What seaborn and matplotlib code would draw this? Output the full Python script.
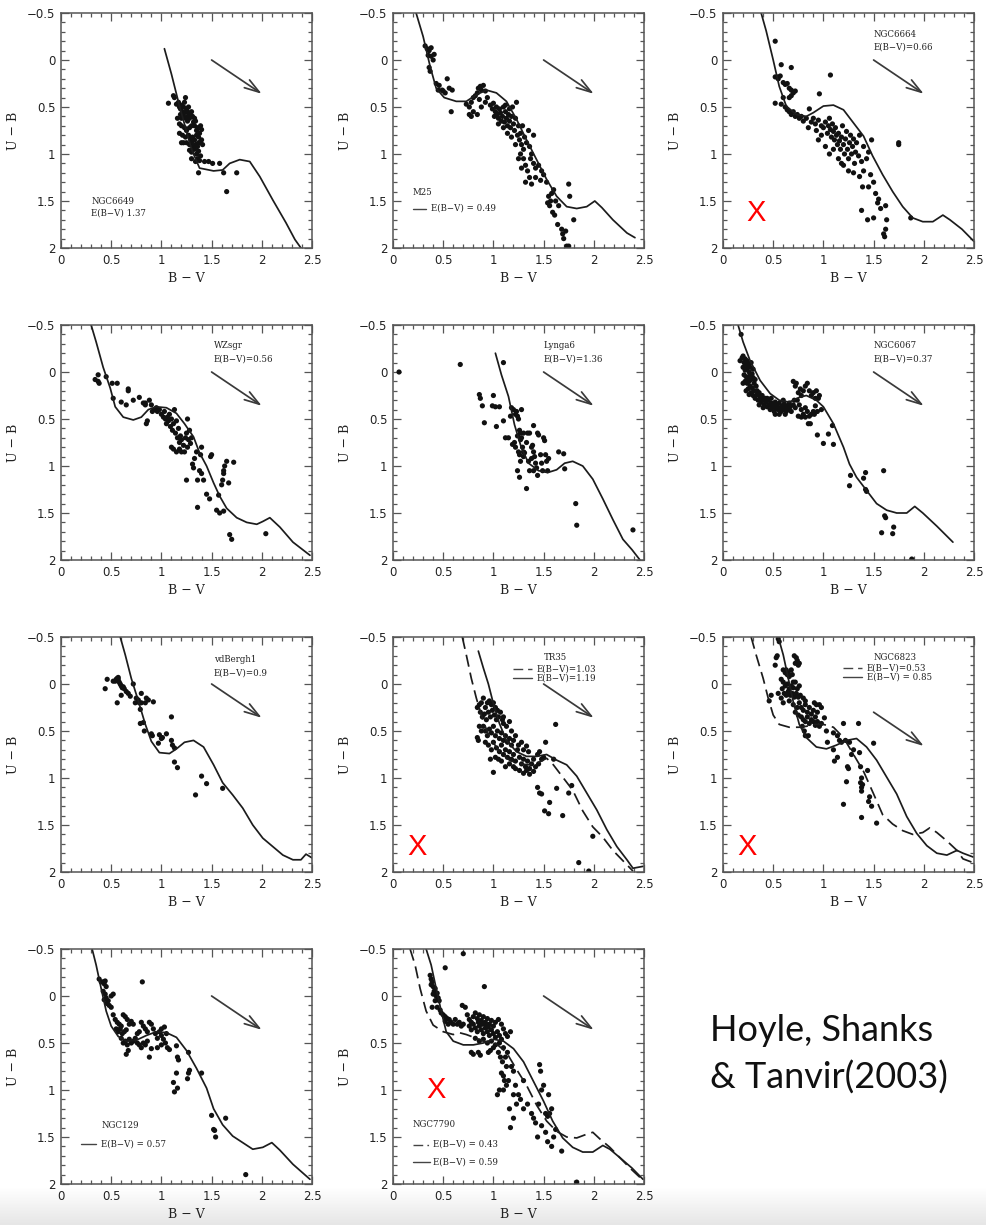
import numpy as np
import pandas as pd
import matplotlib
matplotlib.use("Agg")
import matplotlib.pyplot as plt
import seaborn as sns

# ---------------- DATA ----------------
x_ticks = [0, 0.5, 1, 1.5, 2, 2.5]
x_tick_labels = ["0", "0.5", "1", "1.5", "2", "2.5"]
y_ticks = [-0.5, 0, 0.5, 1, 1.5, 2]
y_tick_labels = ["\u22120.5", "0", "0.5", "1", "1.5", "2"]
x_label = "B \u2212 V"
y_label = "U \u2212 B"
citation_lines = ["Hoyle, Shanks", "& Tanvir(2003)"]

# reddening vector (start, end) in (B-V, U-B)
arrow_default = [(1.5, 0.0), (2.0, 0.36)]
arrow_ngc6823 = [(1.5, 0.30), (2.0, 0.66)]

# ---- NGC6649 ----
ngc6649_pts = [(1.07,0.46),(1.12,0.38),(1.13,0.40),(1.15,0.47),(1.17,0.45),(1.18,0.50),(1.19,0.52),(1.20,0.48),
 (1.21,0.55),(1.22,0.50),(1.23,0.45),(1.24,0.40),(1.25,0.52),(1.26,0.55),(1.27,0.50),(1.28,0.58),(1.30,0.55),
 (1.19,0.58),(1.20,0.62),(1.22,0.60),(1.24,0.62),(1.26,0.65),(1.28,0.62),(1.31,0.60),(1.33,0.62),(1.34,0.65),
 (1.16,0.62),(1.18,0.68),(1.20,0.70),(1.23,0.72),(1.25,0.75),(1.28,0.72),(1.30,0.70),(1.33,0.70),(1.36,0.72),
 (1.39,0.70),(1.40,0.74),(1.18,0.78),(1.21,0.80),(1.24,0.82),(1.27,0.80),(1.29,0.84),(1.31,0.82),(1.33,0.85),
 (1.35,0.80),(1.37,0.82),(1.38,0.78),(1.40,0.85),(1.20,0.88),(1.22,0.88),(1.25,0.88),(1.28,0.90),(1.30,0.88),
 (1.32,0.92),(1.34,0.90),(1.36,0.92),(1.38,0.88),(1.41,0.90),(1.28,0.96),(1.30,0.98),(1.33,0.95),(1.35,1.00),
 (1.37,0.97),(1.39,1.02),(1.30,1.05),(1.34,1.08),(1.36,1.05),(1.38,1.07),(1.43,1.08),(1.47,1.08),(1.51,1.10),
 (1.58,1.10),(1.37,1.20),(1.62,1.20),(1.75,1.20),(1.65,1.40),(1.21,0.57),(1.23,0.56),(1.26,0.60),(1.32,0.66),
 (1.35,0.75),(1.37,0.88)]
ngc6649_curve = [(1.03,-0.12),(1.10,0.15),(1.18,0.49),(1.30,0.95),(1.38,1.15),(1.52,1.18),(1.61,1.17),(1.68,1.10),
 (1.78,1.06),(1.88,1.08),(1.98,1.24),(2.11,1.49),(2.24,1.73),(2.33,1.91),(2.39,2.0)]

# ---- M25 ----
m25_pts = [(0.32,-0.15),(0.34,-0.12),(0.36,-0.10),(0.38,-0.13),(0.35,-0.05),(0.38,-0.04),(0.41,-0.06),(0.40,0.0),
 (0.36,0.08),(0.37,0.12),(0.43,0.25),(0.46,0.27),(0.45,0.32),(0.49,0.32),(0.52,0.35),(0.54,0.20),(0.56,0.30),
 (0.59,0.32),(0.58,0.55),(0.50,0.33),(0.73,0.47),(0.76,0.50),(0.78,0.45),(0.80,0.40),(0.82,0.38),(0.84,0.35),
 (0.85,0.30),(0.87,0.28),(0.88,0.32),(0.90,0.27),(0.92,0.33),(0.86,0.42),(0.80,0.55),(0.78,0.60),(0.84,0.58),
 (0.88,0.50),(0.92,0.45),(0.94,0.40),(0.76,0.58),(0.97,0.48),(0.99,0.52),(1.00,0.46),(1.02,0.55),(1.03,0.50),
 (1.04,0.58),(1.05,0.62),(1.06,0.52),(1.07,0.56),(1.08,0.65),(1.09,0.60),(1.10,0.50),(1.11,0.66),(1.12,0.55),
 (1.13,0.62),(1.14,0.70),(1.15,0.58),(1.16,0.65),(1.17,0.72),(1.18,0.60),(1.19,0.50),(1.20,0.68),(1.21,0.75),
 (1.22,0.62),(1.23,0.45),(1.24,0.80),(1.25,0.70),(1.26,0.85),(1.27,0.78),(1.28,0.90),(1.30,0.95),(1.29,0.70),
 (1.31,0.82),(1.33,0.88),(1.35,0.75),(1.36,0.92),(1.38,1.00),(1.40,0.80),(1.37,1.05),(1.30,1.05),(1.27,1.00),
 (1.25,1.05),(1.32,1.12),(1.28,1.15),(1.34,1.18),(1.40,1.10),(1.42,1.15),(1.45,1.12),(1.48,1.18),(1.36,1.25),
 (1.32,1.30),(1.42,1.25),(1.47,1.28),(1.38,1.32),(1.53,1.30),(1.50,1.22),(1.10,0.72),(1.14,0.78),(1.18,0.82),
 (1.22,0.90),(1.05,0.68),(1.01,0.60),(1.12,0.48),(1.16,0.52),(1.55,1.45),(1.57,1.50),(1.58,1.42),(1.60,1.38),
 (1.56,1.55),(1.62,1.50),(1.59,1.62),(1.61,1.65),(1.65,1.55),(1.64,1.75),(1.68,1.80),(1.69,1.85),(1.70,1.90),
 (1.73,1.98),(1.75,1.98),(1.72,1.82),(1.75,1.32),(1.80,1.70),(1.76,1.45),(1.54,1.52)]
m25_curve = [(0.23,-0.5),(0.30,-0.25),(0.37,0.07),(0.43,0.30),(0.51,0.40),(0.63,0.44),(0.73,0.44),(0.83,0.37),
 (0.93,0.32),(1.03,0.35),(1.13,0.44),(1.23,0.63),(1.33,0.85),(1.43,1.06),(1.53,1.27),(1.63,1.45),(1.73,1.56),
 (1.83,1.58),(1.93,1.56),(2.01,1.50),(2.08,1.57),(2.19,1.70),(2.33,1.84),(2.41,1.89)]

# ---- NGC6664 ----
ngc6664_pts = [(0.52,-0.2),(0.58,0.05),(0.68,0.08),(0.52,0.18),(0.54,0.18),(0.55,0.20),(0.57,0.17),(0.60,0.24),
 (0.62,0.26),(0.64,0.25),(0.66,0.30),(0.68,0.32),(0.70,0.35),(0.72,0.33),(0.66,0.40),(0.68,0.38),(0.60,0.40),
 (0.52,0.46),(0.58,0.47),(0.62,0.50),(0.64,0.53),(0.66,0.55),(0.68,0.58),(0.70,0.55),(0.72,0.60),(0.74,0.58),
 (0.76,0.62),(0.78,0.60),(0.80,0.65),(0.83,0.62),(0.86,0.52),(0.88,0.66),(0.85,0.72),(0.90,0.62),(0.92,0.68),
 (0.95,0.64),(0.96,0.36),(0.98,0.70),(1.07,0.16),(0.93,0.75),(1.00,0.72),(1.02,0.66),(1.04,0.78),(1.05,0.70),
 (1.06,0.62),(1.07,0.74),(1.08,0.82),(1.09,0.68),(1.10,0.76),(1.11,0.85),(1.12,0.72),(1.13,0.80),(1.14,0.90),
 (1.15,0.78),(1.16,0.86),(1.17,0.95),(1.18,0.82),(1.19,0.70),(1.20,0.90),(1.21,1.00),(1.22,0.84),(1.23,0.76),
 (1.24,0.95),(1.25,1.05),(1.26,0.88),(1.27,0.80),(1.28,1.00),(1.29,0.92),(1.30,0.84),(1.31,1.10),(1.32,0.98),
 (1.33,0.88),(1.35,1.02),(1.36,0.80),(1.38,1.08),(1.40,0.92),(1.40,1.18),(1.43,1.05),(1.45,0.98),(1.47,1.22),
 (1.48,0.85),(1.02,0.92),(1.06,1.00),(1.10,0.95),(1.15,1.05),(1.20,1.12),(1.25,1.18),(1.30,1.20),(1.36,1.24),
 (1.39,1.35),(1.45,1.35),(1.50,1.30),(1.52,1.42),(1.54,1.52),(1.55,1.48),(1.57,1.58),(1.62,1.55),(1.63,1.70),
 (1.62,1.80),(1.60,1.85),(1.61,1.88),(1.38,1.60),(1.44,1.70),(1.50,1.68),(1.87,1.68),(1.75,0.88),(1.75,0.90),
 (0.98,0.80),(0.95,0.85),(1.18,1.10)]
ngc6664_curve = [(0.38,-0.5),(0.43,-0.31),(0.50,0.0),(0.56,0.28),(0.63,0.49),(0.73,0.58),(0.83,0.60),(0.90,0.56),
 (1.00,0.49),(1.10,0.48),(1.20,0.53),(1.30,0.67),(1.40,0.81),(1.49,1.02),(1.59,1.22),(1.69,1.40),(1.79,1.56),
 (1.89,1.68),(1.99,1.72),(2.09,1.72),(2.19,1.65),(2.26,1.70),(2.38,1.80),(2.50,1.93)]

# ---- WZsgr ----
wzsgr_pts = [(0.34,0.08),(0.37,0.10),(0.38,0.12),(0.37,0.03),(0.45,0.05),(0.51,0.12),(0.56,0.12),(0.52,0.28),
 (0.60,0.32),(0.65,0.35),(0.67,0.18),(0.67,0.20),(0.72,0.30),(0.78,0.27),(0.82,0.33),(0.84,0.33),(0.84,0.35),
 (0.88,0.30),(0.90,0.35),(0.93,0.40),(0.95,0.38),(0.96,0.42),(0.98,0.40),(0.85,0.55),(0.86,0.52),(0.91,0.42),
 (1.00,0.45),(1.02,0.48),(1.03,0.42),(1.04,0.50),(1.05,0.55),(1.06,0.48),(1.07,0.52),(1.08,0.45),(1.09,0.58),
 (1.10,0.50),(1.11,0.62),(1.12,0.55),(1.13,0.40),(1.14,0.65),(1.15,0.52),(1.16,0.70),(1.17,0.60),(1.18,0.75),
 (1.19,0.68),(1.20,0.72),(1.22,0.78),(1.24,0.70),(1.25,0.65),(1.26,0.80),(1.27,0.72),(1.28,0.62),(1.29,0.76),
 (1.30,0.70),(1.26,0.50),(1.10,0.80),(1.12,0.82),(1.15,0.85),(1.18,0.82),(1.20,0.85),(1.23,0.85),(1.35,0.85),
 (1.39,0.88),(1.40,0.80),(1.33,0.92),(1.31,0.98),(1.32,1.02),(1.38,1.05),(1.40,1.08),(1.42,1.15),(1.36,1.15),
 (1.25,1.15),(1.49,0.90),(1.50,0.88),(1.45,1.30),(1.48,1.35),(1.36,1.44),(1.55,1.47),(1.58,1.50),(1.62,1.48),
 (1.60,1.20),(1.61,1.15),(1.62,1.05),(1.63,1.00),(1.65,0.95),(1.67,1.18),(1.72,0.96),(1.62,1.08),(1.68,1.73),
 (1.70,1.78),(2.04,1.72),(1.57,1.31)]
wzsgr_curve = [(0.30,-0.5),(0.35,-0.32),(0.42,-0.05),(0.49,0.17),(0.54,0.37),(0.62,0.48),(0.72,0.51),(0.80,0.48),
 (0.87,0.40),(0.95,0.37),(1.05,0.38),(1.15,0.44),(1.23,0.55),(1.32,0.69),(1.38,0.86),(1.45,1.00),(1.52,1.18),
 (1.58,1.32),(1.65,1.45),(1.75,1.55),(1.85,1.60),(1.95,1.62),(2.01,1.59),(2.08,1.55),(2.18,1.65),(2.31,1.81),
 (2.48,1.95)]

# ---- Lynga6 ----
lynga6_pts = [(0.06,0.0),(0.67,-0.08),(0.86,0.24),(0.87,0.28),(0.89,0.36),(0.91,0.54),(0.99,0.36),(1.00,0.25),
 (1.02,0.37),(1.03,0.58),(1.06,0.37),(1.10,0.52),(1.10,-0.10),(1.12,0.70),(1.15,0.70),(1.17,0.47),(1.18,0.38),
 (1.20,0.40),(1.19,0.77),(1.21,0.75),(1.22,0.45),(1.23,0.42),(1.24,0.47),(1.25,0.50),(1.26,0.62),(1.27,0.65),
 (1.28,0.40),(1.28,0.70),(1.29,0.80),(1.30,0.85),(1.30,0.65),(1.24,0.68),(1.22,0.80),(1.25,0.85),(1.26,0.88),
 (1.27,0.95),(1.30,0.90),(1.33,0.75),(1.34,0.65),(1.36,0.65),(1.38,0.80),(1.39,0.78),(1.40,0.57),(1.40,0.85),
 (1.41,0.90),(1.38,0.92),(1.35,0.95),(1.42,0.97),(1.43,1.02),(1.44,0.65),(1.45,0.67),(1.47,0.88),(1.48,0.97),
 (1.49,1.05),(1.50,0.70),(1.51,0.73),(1.52,0.88),(1.53,0.95),(1.55,0.92),(1.54,1.05),(1.40,1.05),(1.44,1.10),
 (1.36,1.05),(1.24,1.05),(1.26,1.12),(1.33,1.24),(1.65,0.85),(1.70,0.87),(1.71,1.03),(1.82,1.40),(1.83,1.63),
 (2.39,1.68),(1.27,0.72),(1.31,0.86)]
lynga6_curve = [(1.02,-0.20),(1.08,0.03),(1.15,0.26),(1.21,0.56),(1.28,0.81),(1.35,0.97),(1.45,1.05),(1.54,1.07),
 (1.63,1.04),(1.71,0.97),(1.79,0.95),(1.89,1.00),(1.99,1.14),(2.09,1.35),(2.19,1.57),(2.29,1.78),(2.38,1.89),
 (2.46,2.0)]

# ---- NGC6067 ----
ngc6067_pts = [(0.17,-0.12),(0.19,-0.15),(0.20,-0.17),(0.21,-0.10),(0.22,-0.14),(0.23,-0.08),(0.24,-0.12),
 (0.20,-0.05),(0.22,-0.02),(0.24,-0.04),(0.25,-0.08),(0.26,0.00),(0.27,-0.05),(0.28,-0.10),(0.21,0.03),
 (0.23,0.05),(0.25,0.07),(0.27,0.03),(0.29,0.02),(0.30,-0.03),(0.22,0.10),(0.24,0.12),(0.26,0.10),(0.28,0.08),
 (0.30,0.06),(0.31,0.12),(0.32,0.08),(0.23,0.20),(0.25,0.18),(0.27,0.15),(0.29,0.17),(0.31,0.20),(0.33,0.15),
 (0.34,0.20),(0.20,0.12),(0.26,0.24),(0.28,0.22),(0.30,0.25),(0.32,0.28),(0.34,0.24),(0.36,0.22),(0.35,0.30),
 (0.37,0.27),(0.38,0.32),(0.39,0.25),(0.40,0.30),(0.41,0.35),(0.42,0.28),(0.43,0.32),(0.44,0.37),(0.45,0.30),
 (0.46,0.35),(0.47,0.40),(0.48,0.33),(0.49,0.38),(0.50,0.35),(0.51,0.42),(0.52,0.32),(0.53,0.38),(0.54,0.35),
 (0.55,0.40),(0.56,0.33),(0.57,0.38),(0.58,0.42),(0.59,0.36),(0.60,0.40),(0.61,0.34),(0.62,0.38),(0.63,0.42),
 (0.64,0.36),(0.65,0.40),(0.66,0.33),(0.67,0.37),(0.68,0.42),(0.70,0.35),(0.71,0.30),(0.72,0.38),(0.36,0.35),
 (0.40,0.38),(0.44,0.28),(0.48,0.28),(0.52,0.45),(0.56,0.45),(0.60,0.30),(0.62,0.45),(0.70,0.10),(0.72,0.15),
 (0.75,0.22),(0.77,0.18),(0.78,0.25),(0.80,0.20),(0.82,0.15),(0.84,0.12),(0.86,0.20),(0.88,0.25),(0.90,0.22),
 (0.92,0.28),(0.95,0.28),(0.96,0.25),(0.93,0.20),(0.74,0.30),(0.76,0.35),(0.78,0.40),(0.80,0.45),(0.82,0.38),
 (0.84,0.42),(0.86,0.47),(0.88,0.45),(0.90,0.42),(0.92,0.36),(0.94,0.42),(0.75,0.47),(0.78,0.48),(0.82,0.48),
 (0.85,0.55),(0.87,0.55),(0.91,0.45),(0.73,0.12),(0.98,0.40),(0.94,0.67),(1.05,0.66),(1.00,0.76),(1.09,0.57),
 (1.10,0.77),(1.27,1.10),(1.26,1.21),(1.40,1.13),(1.42,1.07),(1.42,1.25),(1.43,1.27),(1.60,1.05),(1.61,1.53),
 (1.62,1.55),(1.58,1.71),(1.69,1.72),(1.70,1.65),(1.88,1.99),(0.18,-0.40)]
ngc6067_curve = [(0.15,-0.5),(0.20,-0.32),(0.27,-0.12),(0.37,0.09),(0.47,0.23),(0.56,0.30),(0.66,0.32),(0.76,0.27),
 (0.83,0.25),(0.93,0.30),(1.00,0.37),(1.10,0.55),(1.20,0.80),(1.26,0.98),(1.33,1.12),(1.43,1.26),(1.53,1.40),
 (1.63,1.47),(1.73,1.50),(1.83,1.50),(1.91,1.43),(1.99,1.50),(2.13,1.64),(2.29,1.81)]

# ---- vdBergh1 ----
vdbergh1_pts = [(0.44,0.05),(0.46,-0.05),(0.52,-0.03),(0.54,-0.03),(0.55,-0.05),(0.56,-0.06),(0.57,-0.05),
 (0.58,-0.02),(0.59,0.0),(0.60,0.02),(0.62,0.03),(0.63,0.05),(0.65,0.08),(0.67,0.10),(0.69,0.13),(0.72,0.0),
 (0.74,0.20),(0.75,0.15),(0.77,0.17),(0.78,0.20),(0.79,0.27),(0.80,0.10),(0.80,0.20),(0.84,0.20),(0.85,0.15),
 (0.87,0.17),(0.92,0.19),(0.56,0.20),(0.60,0.12),(0.79,0.42),(0.82,0.41),(0.83,0.50),(0.90,0.53),(0.91,0.55),
 (0.97,0.63),(0.98,0.54),(1.01,0.57),(1.05,0.53),(1.00,0.58),(1.10,0.35),(1.10,0.60),(1.11,0.65),(1.13,0.68),
 (1.13,0.83),(1.16,0.89),(1.34,1.18),(1.40,0.98),(1.45,1.06),(1.61,1.11),(0.57,-0.07),(0.61,0.04)]
vdbergh1_curve = [(0.59,-0.5),(0.64,-0.31),(0.70,-0.06),(0.77,0.18),(0.84,0.43),(0.90,0.61),(0.98,0.73),
 (1.08,0.74),(1.15,0.69),(1.23,0.62),(1.32,0.60),(1.42,0.67),(1.52,0.86),(1.61,1.05),(1.71,1.18),(1.81,1.32),
 (1.91,1.50),(2.01,1.64),(2.11,1.73),(2.21,1.82),(2.31,1.87),(2.39,1.87),(2.44,1.81),(2.50,1.85)]

# ---- TR35 ----
tr35_pts = [(0.84,0.25),(0.86,0.22),(0.88,0.20),(0.90,0.15),(0.92,0.25),(0.94,0.20),(0.96,0.18),(0.98,0.22),
 (1.00,0.20),(1.02,0.25),(1.04,0.28),(0.87,0.30),(0.89,0.35),(0.91,0.32),(0.93,0.38),(0.95,0.30),(0.97,0.35),
 (0.99,0.28),(1.01,0.33),(1.03,0.38),(1.05,0.35),(1.07,0.30),(1.09,0.38),(1.10,0.42),(1.13,0.45),(1.16,0.40),
 (0.86,0.45),(0.88,0.50),(0.90,0.45),(0.92,0.50),(0.94,0.55),(0.96,0.48),(0.98,0.52),(1.00,0.45),(1.02,0.55),
 (1.04,0.50),(1.06,0.58),(1.08,0.52),(1.10,0.60),(1.12,0.55),(1.14,0.62),(1.16,0.58),(1.18,0.65),(1.20,0.60),
 (0.84,0.57),(0.85,0.60),(0.92,0.62),(0.95,0.65),(0.98,0.70),(1.00,0.62),(1.03,0.68),(1.06,0.72),(1.08,0.65),
 (1.10,0.75),(1.12,0.70),(1.14,0.78),(1.16,0.72),(1.18,0.80),(1.20,0.75),(1.22,0.82),(1.24,0.70),(1.26,0.78),
 (1.28,0.85),(1.30,0.80),(1.32,0.88),(1.34,0.82),(1.36,0.90),(1.38,0.85),(1.40,0.80),(1.42,0.88),(1.44,0.75),
 (1.46,0.72),(1.48,0.80),(1.50,0.78),(1.22,0.90),(1.26,0.92),(1.30,0.95),(1.33,0.92),(1.36,0.96),(1.40,0.93),
 (1.20,0.88),(1.16,0.85),(1.12,0.88),(1.08,0.82),(1.05,0.80),(1.02,0.78),(1.00,0.94),(0.97,0.80),(1.25,0.65),
 (1.30,0.70),(1.35,0.72),(1.33,0.66),(1.28,0.62),(1.52,0.62),(1.62,0.43),(1.44,1.10),(1.46,1.16),(1.48,1.17),
 (1.51,1.35),(1.55,1.38),(1.56,1.26),(1.63,1.11),(1.69,1.40),(1.75,1.16),(1.78,1.08),(1.99,1.62),(1.85,1.90),
 (1.95,1.99),(1.60,0.80),(1.45,0.85),(1.10,0.35),(1.18,0.50),(1.22,0.55)]
tr35_curve_a = [(0.69,-0.5),(0.73,-0.31),(0.78,-0.06),(0.83,0.15),(0.90,0.40),(0.96,0.56),(1.06,0.72),(1.16,0.81),
 (1.26,0.85),(1.36,0.86),(1.46,0.83),(1.53,0.79),(1.59,0.85),(1.69,0.99),(1.79,1.13),(1.89,1.35),(1.99,1.52),
 (2.09,1.63),(2.19,1.77),(2.29,1.88),(2.39,1.99)]
tr35_curve_b = [(0.85,-0.35),(0.90,-0.17),(0.95,0.0),(1.00,0.21),(1.06,0.42),(1.13,0.60),(1.23,0.72),(1.33,0.77),
 (1.43,0.77),(1.53,0.75),(1.63,0.81),(1.73,0.86),(1.83,0.98),(1.93,1.16),(2.03,1.34),(2.13,1.55),(2.23,1.73),
 (2.33,1.87),(2.39,1.96),(2.49,1.94)]

# ---- NGC6823 ----
ngc6823_pts = [(0.55,-0.48),(0.56,-0.45),(0.54,-0.30),(0.53,-0.28),(0.52,-0.20),(0.71,-0.30),(0.73,-0.28),
 (0.74,-0.25),(0.72,-0.22),(0.75,-0.20),(0.76,-0.22),(0.60,-0.15),(0.62,-0.12),(0.63,-0.15),(0.64,-0.10),
 (0.65,-0.12),(0.66,-0.08),(0.68,-0.15),(0.69,-0.10),(0.58,-0.05),(0.60,-0.02),(0.62,0.02),(0.64,0.00),
 (0.66,0.05),(0.68,0.02),(0.70,0.04),(0.72,-0.02),(0.74,0.05),(0.76,0.02),(0.59,0.05),(0.61,0.10),(0.63,0.12),
 (0.65,0.08),(0.67,0.12),(0.69,0.10),(0.71,0.14),(0.73,0.10),(0.75,0.14),(0.77,0.12),(0.80,0.15),(0.82,0.18),
 (0.55,0.10),(0.48,0.12),(0.46,0.18),(0.58,0.15),(0.60,0.20),(0.66,0.18),(0.70,0.22),(0.74,0.25),(0.76,0.20),
 (0.78,0.25),(0.80,0.28),(0.82,0.22),(0.84,0.30),(0.86,0.25),(0.88,0.32),(0.90,0.28),(0.92,0.35),(0.94,0.30),
 (0.96,0.22),(0.98,0.25),(0.72,0.30),(0.75,0.33),(0.78,0.35),(0.80,0.38),(0.82,0.40),(0.84,0.35),(0.86,0.42),
 (0.88,0.38),(0.90,0.40),(0.92,0.44),(0.94,0.40),(0.96,0.45),(0.98,0.42),(0.79,0.45),(0.81,0.50),(0.85,0.55),
 (0.82,0.55),(1.01,0.36),(1.03,0.50),(1.04,0.62),(1.10,0.70),(1.11,0.82),(1.14,0.78),(1.16,0.60),(1.18,0.62),
 (1.20,0.42),(1.20,1.28),(1.22,0.60),(1.23,1.04),(1.24,0.88),(1.25,0.90),(1.35,0.42),(1.36,0.73),(1.37,0.88),
 (1.38,1.00),(1.37,1.05),(1.38,1.10),(1.39,1.07),(1.38,1.14),(1.38,1.42),(1.44,0.92),(1.45,1.25),(1.46,1.20),
 (1.48,1.30),(1.50,0.63),(1.53,1.48),(1.28,0.75),(1.30,0.70),(1.26,0.62),(1.10,0.52),(1.14,0.55),(0.91,0.20),
 (0.93,0.22),(0.70,-0.02)]
ngc6823_curve_a = [(0.28,-0.5),(0.33,-0.31),(0.40,-0.06),(0.45,0.15),(0.50,0.33),(0.56,0.43),(0.66,0.46),
 (0.76,0.46),(0.83,0.45),(0.90,0.43),(1.00,0.43),(1.10,0.46),(1.20,0.57),(1.30,0.75),(1.40,0.93),(1.50,1.17),
 (1.59,1.39),(1.69,1.49),(1.79,1.56),(1.89,1.60),(1.99,1.58),(2.06,1.53),(2.13,1.58),(2.23,1.67),(2.33,1.77),
 (2.39,1.86),(2.49,1.90)]
ngc6823_curve_b = [(0.55,-0.5),(0.60,-0.31),(0.65,-0.06),(0.70,0.19),(0.76,0.43),(0.83,0.57),(0.93,0.67),
 (1.03,0.69),(1.13,0.65),(1.23,0.60),(1.33,0.58),(1.43,0.67),(1.53,0.81),(1.63,0.99),(1.73,1.17),(1.83,1.41),
 (1.93,1.59),(2.03,1.72),(2.13,1.80),(2.23,1.82),(2.33,1.77),(2.39,1.80),(2.49,1.84)]

# ---- NGC129 ----
ngc129_pts = [(0.38,-0.18),(0.40,-0.15),(0.42,-0.15),(0.43,-0.13),(0.44,-0.16),(0.45,-0.10),(0.42,-0.05),
 (0.44,-0.02),(0.45,0.02),(0.47,0.05),(0.43,0.04),(0.46,0.08),(0.48,0.10),(0.50,0.00),(0.52,-0.02),(0.50,0.12),
 (0.52,0.20),(0.54,0.25),(0.56,0.28),(0.58,0.30),(0.60,0.32),(0.55,0.35),(0.57,0.38),(0.59,0.35),(0.61,0.40),
 (0.63,0.38),(0.65,0.36),(0.62,0.20),(0.64,0.22),(0.66,0.25),(0.68,0.30),(0.70,0.27),(0.72,0.30),(0.60,0.45),
 (0.62,0.50),(0.64,0.48),(0.66,0.52),(0.68,0.46),(0.70,0.50),(0.72,0.48),(0.67,0.58),(0.65,0.62),(0.74,0.45),
 (0.76,0.50),(0.78,0.52),(0.80,0.55),(0.82,0.50),(0.84,0.52),(0.86,0.48),(0.80,0.28),(0.82,0.32),(0.84,0.35),
 (0.86,0.38),(0.88,0.28),(0.90,0.30),(0.92,0.35),(0.94,0.40),(0.96,0.45),(0.98,0.38),(1.00,0.42),(1.02,0.46),
 (1.04,0.50),(1.06,0.55),(1.00,0.35),(1.03,0.33),(1.05,0.40),(0.88,0.65),(0.90,0.56),(0.96,0.55),(1.00,0.52),
 (1.08,0.57),(0.81,-0.15),(0.76,0.40),(0.78,0.38),(1.15,0.53),(1.16,0.65),(1.17,0.68),(1.15,0.82),(1.12,0.92),
 (1.13,1.02),(1.16,0.98),(1.26,0.88),(1.27,0.82),(1.28,0.79),(1.27,0.60),(1.40,0.82),(1.50,1.27),(1.52,1.42),
 (1.53,1.43),(1.54,1.50),(1.64,1.30),(1.84,1.90)]
ngc129_curve = [(0.31,-0.5),(0.35,-0.33),(0.40,-0.08),(0.45,0.16),(0.50,0.32),(0.57,0.43),(0.65,0.48),(0.75,0.47),
 (0.85,0.42),(0.95,0.38),(1.05,0.39),(1.15,0.44),(1.25,0.58),(1.35,0.77),(1.45,0.98),(1.52,1.20),(1.61,1.37),
 (1.71,1.49),(1.81,1.56),(1.91,1.63),(2.01,1.61),(2.10,1.56),(2.18,1.64),(2.31,1.79),(2.48,1.95)]

# ---- NGC7790 ----
ngc7790_pts = [(0.70,-0.45),(0.52,-0.30),(0.91,-0.10),(0.37,-0.22),(0.38,-0.18),(0.39,-0.15),(0.38,-0.12),
 (0.40,-0.10),(0.41,-0.05),(0.42,-0.08),(0.40,-0.02),(0.43,0.0),(0.44,-0.03),(0.42,0.05),(0.45,0.02),(0.46,0.05),
 (0.39,0.12),(0.44,0.12),(0.47,0.15),(0.48,0.18),(0.50,0.20),(0.52,0.22),(0.54,0.24),(0.56,0.25),(0.58,0.28),
 (0.60,0.30),(0.62,0.25),(0.64,0.30),(0.66,0.28),(0.68,0.32),(0.70,0.30),(0.55,0.30),(0.52,0.27),(0.69,0.10),
 (0.72,0.12),(0.74,0.20),(0.76,0.25),(0.78,0.28),(0.80,0.22),(0.82,0.18),(0.84,0.24),(0.86,0.20),(0.88,0.26),
 (0.90,0.22),(0.92,0.28),(0.94,0.24),(0.96,0.30),(0.98,0.26),(1.00,0.32),(1.02,0.28),(1.05,0.25),(1.08,0.30),
 (1.10,0.35),(1.12,0.40),(1.14,0.43),(1.17,0.38),(0.76,0.32),(0.78,0.36),(0.80,0.30),(0.82,0.34),(0.84,0.38),
 (0.86,0.32),(0.88,0.36),(0.90,0.40),(0.92,0.34),(0.94,0.38),(0.96,0.42),(0.98,0.36),(1.00,0.40),(1.02,0.44),
 (1.04,0.38),(1.06,0.42),(1.08,0.46),(0.82,0.45),(0.86,0.48),(0.90,0.46),(0.94,0.50),(0.98,0.48),(1.02,0.52),
 (1.06,0.50),(1.10,0.55),(0.85,0.28),(0.95,0.33),(0.89,0.30),(0.93,0.31),(0.78,0.60),(0.80,0.62),(0.85,0.60),
 (0.87,0.63),(0.95,0.60),(0.97,0.58),(1.00,0.55),(1.05,0.60),(1.07,0.65),(1.09,0.70),(1.12,0.65),(1.13,0.75),
 (1.10,0.85),(1.08,0.82),(1.15,0.90),(1.13,0.95),(1.06,1.00),(1.10,1.00),(1.04,1.05),(1.20,0.80),(1.22,0.95),
 (1.25,1.05),(1.27,1.10),(1.30,0.90),(1.23,1.15),(1.20,1.05),(1.17,1.40),(1.20,1.30),(1.16,1.20),(1.30,1.20),
 (1.34,1.15),(1.38,1.25),(1.40,1.30),(1.42,1.35),(1.45,1.15),(1.46,0.73),(1.47,0.80),(1.48,1.00),(1.50,0.95),
 (1.52,1.25),(1.54,1.28),(1.56,1.25),(1.58,1.20),(1.55,1.05),(1.48,1.38),(1.44,1.50),(1.52,1.45),(1.54,1.55),
 (1.58,1.60),(1.60,1.50),(1.62,1.42),(1.68,1.65),(1.83,1.98),(1.11,0.90),(1.14,0.60),(1.18,0.75)]
ngc7790_curve_a = [(0.17,-0.5),(0.22,-0.33),(0.27,-0.08),(0.33,0.16),(0.40,0.31),(0.50,0.38),(0.60,0.41),
 (0.66,0.39),(0.73,0.41),(0.83,0.45),(0.93,0.49),(1.03,0.51),(1.13,0.60),(1.23,0.78),(1.33,0.95),(1.43,1.16),
 (1.53,1.33),(1.63,1.44),(1.73,1.50),(1.83,1.51),(1.93,1.47),(1.99,1.45),(2.06,1.52),(2.16,1.61),(2.26,1.72),
 (2.36,1.83),(2.46,1.93)]
ngc7790_curve_b = [(0.33,-0.5),(0.38,-0.33),(0.43,-0.08),(0.48,0.16),(0.53,0.38),(0.60,0.48),(0.70,0.52),
 (0.80,0.52),(0.90,0.50),(1.00,0.46),(1.10,0.48),(1.20,0.56),(1.30,0.70),(1.40,0.91),(1.50,1.12),(1.59,1.33),
 (1.69,1.51),(1.79,1.61),(1.89,1.66),(1.99,1.66),(2.09,1.59),(2.16,1.63),(2.26,1.72),(2.38,1.83),(2.49,1.95)]

# Panel descriptions
panels = [
    dict(rc=(0, 0), pts=ngc6649_pts, curves=[(ngc6649_curve, "-")], arrow=arrow_default,
         texts=[(0.30, 1.50, "NGC6649"), (0.30, 1.63, "E(B\u2212V) 1.37")], leg=[], mark=None),
    dict(rc=(0, 1), pts=m25_pts, curves=[(m25_curve, "-")], arrow=arrow_default,
         texts=[(0.20, 1.41, "M25"), (0.38, 1.58, "E(B\u2212V) = 0.49")], leg=[(0.20, 0.33, 1.58, "-")], mark=None),
    dict(rc=(0, 2), pts=ngc6664_pts, curves=[(ngc6664_curve, "-")], arrow=arrow_default,
         texts=[(1.50, -0.27, "NGC6664"), (1.50, -0.14, "E(B\u2212V)=0.66")], leg=[], mark=(0.33, 1.63)),
    dict(rc=(1, 0), pts=wzsgr_pts, curves=[(wzsgr_curve, "-")], arrow=arrow_default,
         texts=[(1.52, -0.28, "WZsgr"), (1.52, -0.14, "E(B\u2212V)=0.56")], leg=[], mark=None),
    dict(rc=(1, 1), pts=lynga6_pts, curves=[(lynga6_curve, "-")], arrow=arrow_default,
         texts=[(1.50, -0.28, "Lynga6"), (1.50, -0.14, "E(B\u2212V)=1.36")], leg=[], mark=None),
    dict(rc=(1, 2), pts=ngc6067_pts, curves=[(ngc6067_curve, "-")], arrow=arrow_default,
         texts=[(1.50, -0.28, "NGC6067"), (1.50, -0.14, "E(B\u2212V)=0.37")], leg=[], mark=None),
    dict(rc=(2, 0), pts=vdbergh1_pts, curves=[(vdbergh1_curve, "-")], arrow=arrow_default,
         texts=[(1.52, -0.26, "vdBergh1"), (1.52, -0.12, "E(B\u2212V)=0.9")], leg=[], mark=None),
    dict(rc=(2, 1), pts=tr35_pts, curves=[(tr35_curve_a, "--"), (tr35_curve_b, "-")], arrow=arrow_default,
         texts=[(1.50, -0.28, "TR35"), (1.43, -0.16, "E(B\u2212V)=1.03"), (1.43, -0.06, "E(B\u2212V)=1.19")],
         leg=[(1.20, 1.38, -0.16, "--"), (1.20, 1.38, -0.06, "-")], mark=(0.24, 1.73)),
    dict(rc=(2, 2), pts=ngc6823_pts, curves=[(ngc6823_curve_a, "--"), (ngc6823_curve_b, "-")], arrow=arrow_ngc6823,
         texts=[(1.50, -0.28, "NGC6823"), (1.43, -0.17, "E(B\u2212V)=0.53"), (1.43, -0.07, "E(B\u2212V) = 0.85")],
         leg=[(1.20, 1.38, -0.17, "--"), (1.20, 1.38, -0.07, "-")], mark=(0.24, 1.73)),
    dict(rc=(3, 0), pts=ngc129_pts, curves=[(ngc129_curve, "-")], arrow=arrow_default,
         texts=[(0.40, 1.38, "NGC129"), (0.40, 1.57, "E(B\u2212V) = 0.57")], leg=[(0.20, 0.35, 1.57, "-")], mark=None),
    dict(rc=(3, 1), pts=ngc7790_pts, curves=[(ngc7790_curve_a, "--"), (ngc7790_curve_b, "-")], arrow=arrow_default,
         texts=[(0.20, 1.37, "NGC7790"), (0.40, 1.58, "E(B\u2212V) = 0.43"), (0.40, 1.77, "E(B\u2212V) = 0.59")],
         leg=[(0.20, 0.37, 1.58, "-."), (0.20, 0.37, 1.77, "-")], mark=(0.43, 1.00)),
]

# ---------------- DRAWING ----------------
sns.set_theme(style="ticks")
plt.rcParams["font.family"] = ["DejaVu Sans"]

W, H = 986, 1225
fig = plt.figure(figsize=(W / 100, H / 100), dpi=100)
fig.patch.set_facecolor("white")

col_left = [61, 393, 723]
row_top = [13, 325, 637, 949]
ax_w, ax_h = 251, 235
ink = "#1c1c1c"
frame_col = "#555555"
dash_style = (0, (7, 3.5))
dashdot_style = (0, (7, 3, 1.2, 3))

def line_style(code):
    if code == "--":
        return dash_style
    if code == "-.":
        return dashdot_style
    return "-"

for p in panels:
    r, c = p["rc"]
    ax = fig.add_axes([col_left[c] / W, (H - row_top[r] - ax_h) / H, ax_w / W, ax_h / H])
    for curve, ls in p["curves"]:
        cdf = pd.DataFrame(curve, columns=["bv", "ub"])
        sns.lineplot(data=cdf, x="bv", y="ub", sort=False, estimator=None, ax=ax,
                     color=ink, lw=1.25, linestyle=line_style(ls))
    pdf = pd.DataFrame(p["pts"], columns=["bv", "ub"])
    sns.scatterplot(data=pdf, x="bv", y="ub", ax=ax, s=14, color="#111111", edgecolor="none", linewidth=0)
    (x0, y0), (x1, y1) = p["arrow"]
    ax.annotate("", xy=(x1, y1), xytext=(x0, y0),
                arrowprops=dict(arrowstyle="->,head_length=0.9,head_width=0.28", lw=1.25,
                                color="#3a3a3a", shrinkA=0, shrinkB=0))
    for xa, xb, yy, ls in p["leg"]:
        ax.plot([xa, xb], [yy, yy], color="#444444", lw=1.0, linestyle=line_style(ls))
    for tx, ty, s in p["texts"]:
        ax.text(tx, ty, s, fontsize=6.2, family="DejaVu Serif", color="#222222",
                ha="left", va="center")
    if p["mark"] is not None:
        ax.text(p["mark"][0], p["mark"][1], "X", color="#ff0000", fontsize=21,
                family="Liberation Sans", ha="center", va="center")

    ax.set_xlim(0, 2.5)
    ax.set_ylim(2, -0.5)
    ax.set_xticks(x_ticks)
    ax.set_xticklabels(x_tick_labels)
    ax.set_yticks(y_ticks)
    ax.set_yticklabels(y_tick_labels)
    ax.set_xticks(np.arange(0, 2.51, 0.1), minor=True)
    ax.set_yticks(np.arange(-0.5, 2.01, 0.1), minor=True)
    ax.tick_params(which="both", direction="in", top=True, right=True, colors=frame_col,
                   labelcolor="#222222", labelsize=8.5, width=0.9)
    ax.tick_params(which="major", length=5.5, pad=4)
    ax.tick_params(which="minor", length=3)
    for sp in ax.spines.values():
        sp.set_color(frame_col)
        sp.set_linewidth(1.1)
    ax.set_xlabel(x_label, fontsize=9, family="DejaVu Serif", color="#222222", labelpad=4)
    ax.set_ylabel(y_label, fontsize=9, family="DejaVu Serif", color="#222222", labelpad=5)
    ax.set_facecolor("white")

# citation (two lines, baselines ~48 px apart)
fig.text(710 / W, 1 - 1041 / H, citation_lines[0], fontsize=26, family="Lato", color="#111111",
         ha="left", va="baseline")
fig.text(710 / W, 1 - 1089 / H, citation_lines[1], fontsize=26, family="Lato", color="#111111",
         ha="left", va="baseline")

# light grey band at the bottom of the slide
gax = fig.add_axes([0, 0, 1, 38 / H])
grad = np.linspace(1.0, 0.9, 64).reshape(-1, 1)
gax.imshow(grad, cmap="gray", vmin=0, vmax=1, aspect="auto", extent=[0, 1, 0, 1])
gax.set_axis_off()
gax.set_zorder(-1)

fig.savefig("out.png", dpi=100, facecolor="white")
